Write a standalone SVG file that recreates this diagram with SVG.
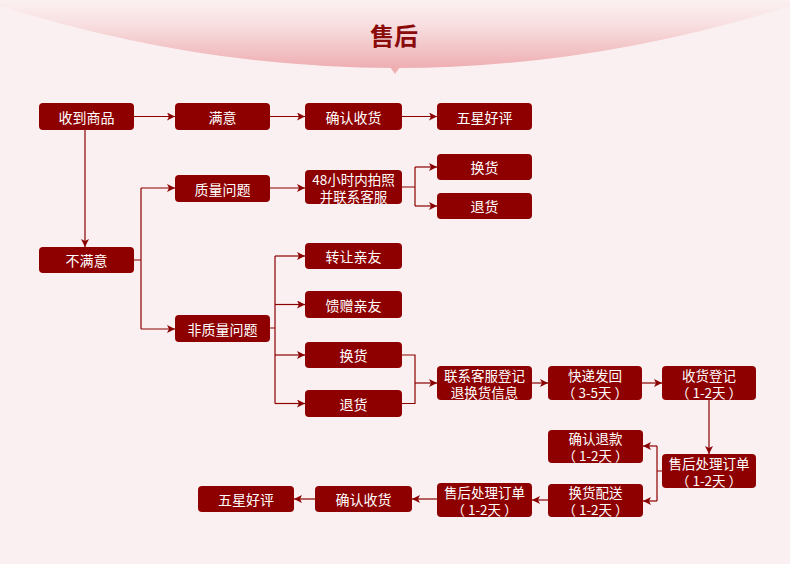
<svg xmlns="http://www.w3.org/2000/svg" width="790" height="564" viewBox="0 0 790 564">
  <defs>
    <linearGradient id="banner" x1="0" y1="0" x2="0" y2="1">
      <stop offset="0" stop-color="#fbf0f1"/>
      <stop offset="0.35" stop-color="#f8e0e1"/>
      <stop offset="1" stop-color="#eeaeb2"/>
    </linearGradient>
    <marker id="arr" markerUnits="userSpaceOnUse" markerWidth="9" markerHeight="8" refX="8" refY="4" orient="auto">
      <path d="M0,0 L8,4 L0,8 L2,4 z" fill="#8b0000"/>
    </marker>
    <style>
      .node rect { fill: #8e0000; }
      .node text { fill: #ffffff; font-family: "Noto Sans CJK SC", "Noto Sans", sans-serif; font-size: 14px; text-anchor: middle; dominant-baseline: central; }
      .node text.s { font-size: 13.5px; }
      .conn path { fill: none; stroke: #8b0000; stroke-width: 1.2; }
      .conn .a { marker-end: url(#arr); }
    </style>
  </defs>
  <rect x="0" y="0" width="790" height="564" fill="#fbf0f1"/>
  <g id="header">
    <path d="M0,0 L790,0 L790,6 Q395,130 0,6 Z" fill="url(#banner)"/>
    <path d="M390,67 L400,67 L395,74 Z" fill="#eeaeb2"/>
    <text x="394" y="34" fill="#8b0a0a" font-family="Noto Sans CJK SC, sans-serif" font-size="24" font-weight="bold" text-anchor="middle" dominant-baseline="central">售后</text>
  </g>
  <g class="conn" id="connectors">
    <path class="a" d="M134,116.5 H175"/>
    <path class="a" d="M270,116.5 H305"/>
    <path class="a" d="M402,116.5 H437"/>
    <path class="a" d="M85,130 V247"/>
    <path d="M134,260 H141 M141,188 V329"/>
    <path class="a" d="M141,188 H175"/>
    <path class="a" d="M141,329 H175"/>
    <path class="a" d="M270,188 H305"/>
    <path d="M402,187 H415 M415,167 V206"/>
    <path class="a" d="M415,167 H437"/>
    <path class="a" d="M415,206 H437"/>
    <path d="M270,328 H275 M275,256 V403.5"/>
    <path class="a" d="M275,256 H305"/>
    <path class="a" d="M275,304.5 H305"/>
    <path class="a" d="M275,355 H305"/>
    <path class="a" d="M275,403.5 H305"/>
    <path d="M402,355 H415 V403.5 H402"/>
    <path class="a" d="M415,383 H437"/>
    <path class="a" d="M532,383 H548"/>
    <path class="a" d="M642,383 H662"/>
    <path class="a" d="M709,400 V454"/>
    <path d="M662,471 H657 M657,446 V501"/>
    <path class="a" d="M657,446 H643"/>
    <path class="a" d="M657,501 H643"/>
    <path class="a" d="M548,500 H532"/>
    <path class="a" d="M437,499 H412"/>
    <path class="a" d="M315,499 H294"/>
  </g>
  <g class="node" id="n1"><rect x="39" y="103" width="95" height="27" rx="4"/><text x="86.5" y="116.5">收到商品</text></g>
  <g class="node" id="n2"><rect x="175" y="103" width="95" height="27" rx="4"/><text x="222.5" y="116.5">满意</text></g>
  <g class="node" id="n3"><rect x="305" y="103" width="97" height="27" rx="4"/><text x="353.5" y="116.5">确认收货</text></g>
  <g class="node" id="n4"><rect x="437" y="103" width="95" height="27" rx="4"/><text x="484.5" y="116.5">五星好评</text></g>
  <g class="node" id="n5"><rect x="175" y="175" width="95" height="27" rx="4"/><text x="222.5" y="188.5">质量问题</text></g>
  <g class="node" id="n6"><rect x="305" y="170" width="97" height="34" rx="4"/><text class="s" x="353.5" y="178.5">48小时内拍照</text><text class="s" x="353.5" y="195.5">并联系客服</text></g>
  <g class="node" id="n7"><rect x="437" y="154" width="95" height="26" rx="4"/><text x="484.5" y="167">换货</text></g>
  <g class="node" id="n8"><rect x="437" y="193" width="95" height="26" rx="4"/><text x="484.5" y="206">退货</text></g>
  <g class="node" id="n9"><rect x="39" y="247" width="95" height="26" rx="4"/><text x="86.5" y="260">不满意</text></g>
  <g class="node" id="n10"><rect x="305" y="243" width="97" height="26" rx="4"/><text x="353.5" y="256">转让亲友</text></g>
  <g class="node" id="n11"><rect x="305" y="291" width="97" height="27" rx="4"/><text x="353.5" y="304.5">馈赠亲友</text></g>
  <g class="node" id="n12"><rect x="175" y="315" width="95" height="27" rx="4"/><text x="222.5" y="328.5">非质量问题</text></g>
  <g class="node" id="n13"><rect x="305" y="342" width="97" height="26" rx="4"/><text x="353.5" y="355">换货</text></g>
  <g class="node" id="n14"><rect x="305" y="390" width="97" height="27" rx="4"/><text x="353.5" y="403.5">退货</text></g>
  <g class="node" id="n15"><rect x="437" y="366" width="95" height="34" rx="4"/><text class="s" x="484.5" y="374.5">联系客服登记</text><text class="s" x="484.5" y="391.5">退换货信息</text></g>
  <g class="node" id="n16"><rect x="548" y="366" width="94" height="34" rx="4"/><text class="s" x="595" y="374.5">快递发回</text><text class="s" x="595" y="391.5">（ 3-5天 ）</text></g>
  <g class="node" id="n17"><rect x="662" y="366" width="94" height="34" rx="4"/><text class="s" x="709" y="374.5">收货登记</text><text class="s" x="709" y="391.5">（ 1-2天 ）</text></g>
  <g class="node" id="n18"><rect x="548" y="430" width="95" height="33" rx="4"/><text class="s" x="595.5" y="438">确认退款</text><text class="s" x="595.5" y="455">（ 1-2天 ）</text></g>
  <g class="node" id="n19"><rect x="662" y="454" width="94" height="34" rx="4"/><text class="s" x="709" y="462.5">售后处理订单</text><text class="s" x="709" y="479.5">（ 1-2天 ）</text></g>
  <g class="node" id="n20"><rect x="548" y="484" width="95" height="33" rx="4"/><text class="s" x="595.5" y="492">换货配送</text><text class="s" x="595.5" y="509">（ 1-2天 ）</text></g>
  <g class="node" id="n21"><rect x="437" y="483" width="95" height="34" rx="4"/><text class="s" x="484.5" y="491.5">售后处理订单</text><text class="s" x="484.5" y="508.5">（ 1-2天 ）</text></g>
  <g class="node" id="n22"><rect x="315" y="486" width="97" height="26" rx="4"/><text x="363.5" y="499">确认收货</text></g>
  <g class="node" id="n23"><rect x="198" y="486" width="96" height="26" rx="4"/><text x="246" y="499">五星好评</text></g>
</svg>
